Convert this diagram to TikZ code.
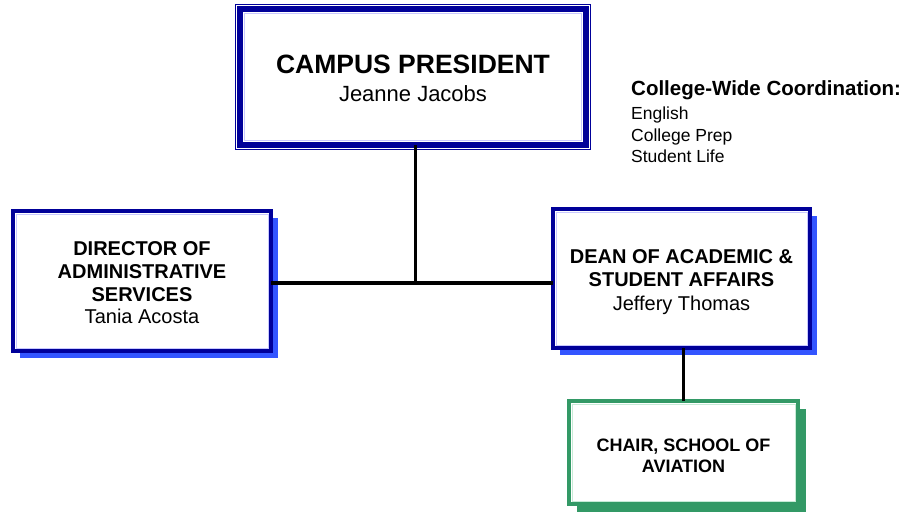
\documentclass[tikz,border=0pt]{standalone}
\usepackage{fontspec}
\setmainfont{Liberation Sans}
\usetikzlibrary{calc,shadows}
\definecolor{navy}{RGB}{0,0,153}
\definecolor{shadowblue}{RGB}{51,85,255}
\definecolor{boxgreen}{RGB}{51,153,102}
\definecolor{lightnavy}{RGB}{200,200,255}
\definecolor{lightgreen}{RGB}{200,235,215}
\tikzset{
  box/.style={rectangle, draw=navy, line width=4pt, fill=white, inner sep=0pt, outer sep=0pt, align=center},
  bluebox/.style={box, general shadow={fill=shadowblue, shadow xshift=7pt, shadow yshift=-7pt}},
  greenbox/.style={box, draw=boxgreen, general shadow={fill=boxgreen, shadow xshift=8pt, shadow yshift=-8pt}},
  conn/.style={draw=black, line width=3.5pt},
  innerblue/.style={draw=lightnavy, line width=0.8pt},
  innergreen/.style={draw=lightgreen, line width=0.8pt},
}
\begin{document}
\begin{tikzpicture}[x=1pt,y=-1pt]
\useasboundingbox (0,0) rectangle (916,519);

% President
\node[box, line width=6pt, minimum width=346pt, minimum height=136pt,
      font=\fontsize{22}{28.7}\selectfont] (pres) at (413,77)
  {\rule{0pt}{21pt}{\fontsize{26.5}{28.7}\selectfont\bfseries CAMPUS PRESIDENT}\\
   Jeanne Jacobs};
\draw[navy, line width=1.2pt] ($(pres.north west)+(-4.5,-4.5)$) rectangle ($(pres.south east)+(4.5,4.5)$);
\draw[innerblue] ($(pres.north west)+(4.5,4.5)$) rectangle ($(pres.south east)+(-4.5,-4.5)$);

% Director
\node[bluebox, minimum width=258pt, minimum height=140pt,
      font=\fontsize{20}{22.7}\selectfont] (dir) at (142,281)
  {\rule{0pt}{17.8pt}\textbf{DIRECTOR OF}\\\textbf{ADMINISTRATIVE}\\\textbf{SERVICES}\\Tania Acosta};
\draw[innerblue] ($(dir.north west)+(3,3)$) rectangle ($(dir.south east)+(-3,-3)$);

% Dean
\node[bluebox, minimum width=257pt, minimum height=139pt,
      font=\fontsize{20}{23.7}\selectfont] (dean) at (681.5,278.5)
  {\rule{0pt}{20.8pt}\textbf{DEAN OF ACADEMIC \&}\\\textbf{STUDENT AFFAIRS}\\Jeffery Thomas};
\draw[innerblue] ($(dean.north west)+(3,3)$) rectangle ($(dean.south east)+(-3,-3)$);

% Chair
\node[greenbox, minimum width=229pt, minimum height=103pt,
      font=\fontsize{18}{21}\selectfont\bfseries] (chair) at (683.5,452.5)
  {\rule{0pt}{18.4pt}CHAIR, SCHOOL OF\\AVIATION};
\draw[innergreen] ($(chair.north west)+(3,3)$) rectangle ($(chair.south east)+(-3,-3)$);

% Coordination note
\node[anchor=north west, inner sep=0pt, align=left,
      font=\fontsize{17.5}{21.5}\selectfont] (coord) at (631,80.5)
  {{\fontsize{20.5}{21.5}\selectfont\bfseries College-Wide Coordination:}\\[2.5pt]
   English\\College Prep\\Student Life};

% Connectors
\coordinate (hub) at (415.5,283);
\draw[conn] (pres.south -| hub) -- (hub);
\draw[conn] (dir.east |- hub) -- (dean.west |- hub);
\draw[conn] (chair.north) -- (chair.north |- dean.south);
\end{tikzpicture}
\end{document}
